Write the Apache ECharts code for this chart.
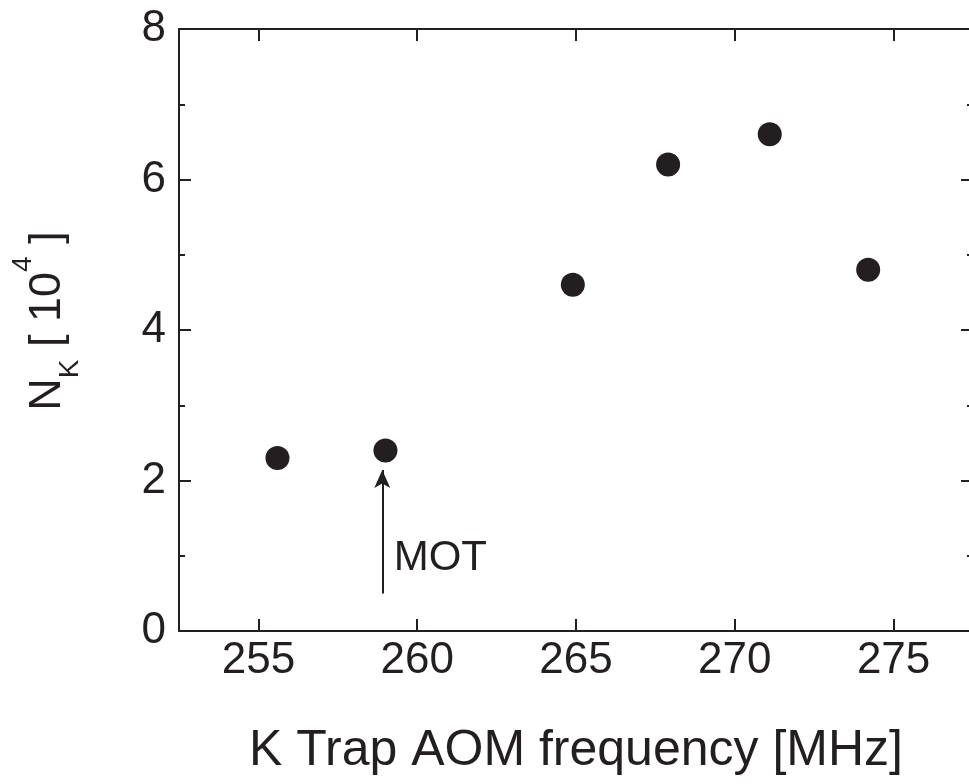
<!DOCTYPE html>
<html>
<head>
<meta charset="utf-8">
<script src="https://cdn.jsdelivr.net/npm/echarts@6/dist/echarts.min.js"></script>
<style>html,body{margin:0;padding:0;background:#fff;}#c{width:969px;height:784px;}</style>
</head>
<body>
<div id="c"></div>
<script>
const freq = [255.6, 259.0, 264.9, 267.9, 271.1, 274.2];
const nK = [2.30, 2.40, 4.60, 6.20, 6.60, 4.80];
const xTicks = [255, 260, 265, 270, 275];
const yTicks = [0, 2, 4, 6, 8];
const arrowX = 258.9;
const arrowFrom = 0.5;
const arrowTo = 2.14;
const motLabel = 'MOT';
const motPos = [259.26, 0.96];

const INK = '#231f20';
const FONT = '"Liberation Sans", Arial, Helvetica, sans-serif';

const chart = echarts.init(document.getElementById('c'), null, {renderer: 'canvas'});

function xAxisCfg(pos, showLabels) {
  return {
    type: 'value', position: pos, min: 252.5, max: 277.5, interval: 5,
    axisLine: {show: true, onZero: false, lineStyle: {color: INK, width: 2}},
    axisTick: {show: true, inside: true, length: 12, lineStyle: {color: INK, width: 2},
      customValues: xTicks},
    minorTick: {show: true, splitNumber: 2, length: 6, lineStyle: {color: INK, width: 2}},
    axisLabel: {show: showLabels, color: INK, fontSize: 44, fontFamily: FONT, margin: 8,
      customValues: xTicks},
    splitLine: {show: false}
  };
}
function yAxisCfg(pos, showLabels) {
  return {
    type: 'value', position: pos, min: 0, max: 8, interval: 2,
    axisLine: {show: true, onZero: false, lineStyle: {color: INK, width: 2}},
    axisTick: {show: true, inside: true, length: 12, lineStyle: {color: INK, width: 2},
      customValues: yTicks},
    minorTick: {show: true, splitNumber: 2, length: 6, lineStyle: {color: INK, width: 2}},
    axisLabel: {show: showLabels, color: INK, fontSize: 44, fontFamily: FONT, margin: 13,
      customValues: yTicks},
    splitLine: {show: false}
  };
}

const xb = xAxisCfg('bottom', true);
xb.name = 'K Trap AOM frequency [MHz]';
xb.nameLocation = 'middle';
xb.nameGap = 95;
xb.nameTextStyle = {color: INK, fontSize: 50, fontFamily: FONT};

const yl = yAxisCfg('left', true);
yl.name = '{m|N}{sub|K}{m| [ 10}{sup|4}{m| ]}';
yl.nameLocation = 'middle';
yl.nameGap = 92;
yl.nameTextStyle = {
  color: INK, fontSize: 45, fontFamily: FONT,
  padding: [0, 0, 0, 18],
  rich: {
    m: {fontSize: 45, fontFamily: FONT, color: INK, verticalAlign: 'middle'},
    sub: {fontSize: 28, fontFamily: FONT, color: INK, verticalAlign: 'middle', padding: [44, 0, 0, 0]},
    sup: {fontSize: 28, fontFamily: FONT, color: INK, verticalAlign: 'middle', padding: [0, 0, 50, 0]}
  }
};

chart.setOption({
  animation: false,
  backgroundColor: '#fff',
  grid: {left: 179, right: -4, top: 29, bottom: 153, containLabel: false, outerBoundsMode: 'none'},
  xAxis: [xb, xAxisCfg('top', false)],
  yAxis: [yl, yAxisCfg('right', false)],
  series: [
    {
      type: 'scatter', xAxisIndex: 0, yAxisIndex: 0,
      symbol: 'circle', symbolSize: 24,
      itemStyle: {color: INK, opacity: 1},
      data: freq.map((f, i) => [f, nK[i]]),
      silent: true,
      markLine: {
        silent: true, animation: false,
        symbol: ['none', 'arrow'], symbolSize: [12, 18],
        label: {show: false},
        lineStyle: {color: INK, width: 2, type: 'solid', opacity: 1},
        emphasis: {disabled: true},
        data: [[{coord: [arrowX, arrowFrom]}, {coord: [arrowX, arrowTo]}]]
      }
    },
    {
      type: 'scatter', xAxisIndex: 0, yAxisIndex: 0,
      symbol: 'circle', symbolSize: 0, silent: true,
      itemStyle: {color: INK, opacity: 1},
      label: {show: true, position: 'right', distance: 0, formatter: motLabel,
        color: INK, opacity: 1, fontSize: 42, fontFamily: FONT},
      data: [motPos]
    }
  ]
});
</script>
</body>
</html>
